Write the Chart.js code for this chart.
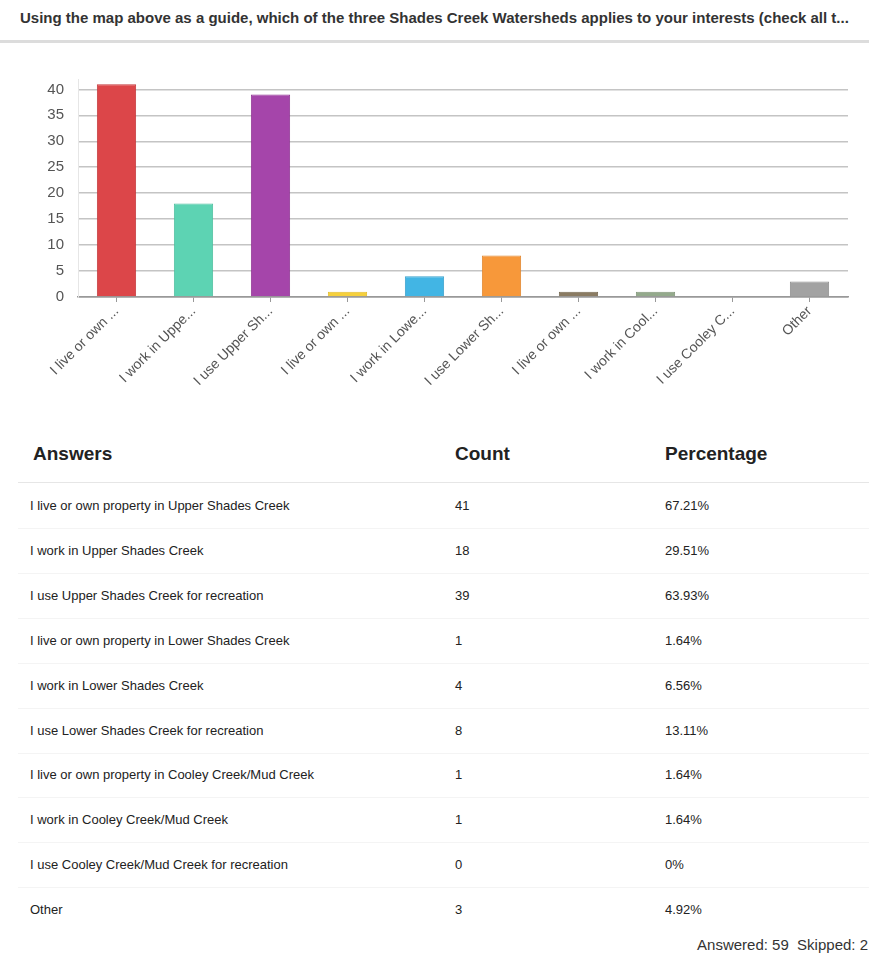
<!DOCTYPE html>
<html>
<head>
<meta charset="utf-8">
<script src="https://cdn.jsdelivr.net/npm/chart.js@4/dist/chart.umd.min.js"></script>
<style>
  body { margin: 0; background: #fff; width: 869px; height: 960px; overflow: hidden; position: relative; font-family: "Liberation Sans", Arial, sans-serif; color: #333; }
  .title { position: absolute; left: 20px; top: 9px; font-size: 15px; font-weight: bold; white-space: nowrap; color: #333; }
  .rule { position: absolute; left: 0; top: 40px; width: 869px; height: 3px; background: #dcdcdc; }
  #chartBox { position: absolute; left: 0; top: 56px; width: 869px; height: 354px; }
  .cell { position: absolute; white-space: nowrap; font-size: 13px; color: #222; }
  .head { font-size: 19px; font-weight: bold; color: #222; }
  .sep { position: absolute; left: 18px; width: 851px; height: 1px; background: #f4f4f4; }
  .footer { position: absolute; right: 1px; top: 936px; font-size: 15px; color: #333; white-space: nowrap; }
</style>
</head>
<body>
<div class="title">Using the map above as a guide, which of the three Shades Creek Watersheds applies to your interests (check all t...</div>
<div class="rule"></div>
<div id="chartBox"><canvas id="barGraph"></canvas></div>
<div id="table"></div>
<div class="footer">Answered: 59&nbsp;&nbsp;Skipped: 2</div>
<script>
// Answer choices, their short axis labels and response counts
var answers = [
    'I live or own property in Upper Shades Creek',
    'I work in Upper Shades Creek',
    'I use Upper Shades Creek for recreation',
    'I live or own property in Lower Shades Creek',
    'I work in Lower Shades Creek',
    'I use Lower Shades Creek for recreation',
    'I live or own property in Cooley Creek/Mud Creek',
    'I work in Cooley Creek/Mud Creek',
    'I use Cooley Creek/Mud Creek for recreation',
    'Other'
];
var axisLabels = [
    'I live or own ...', 'I work in Uppe...', 'I use Upper Sh...',
    'I live or own ...', 'I work in Lowe...', 'I use Lower Sh...',
    'I live or own ...', 'I work in Cool...', 'I use Cooley C...', 'Other'
];
var counts = [41, 18, 39, 1, 4, 8, 1, 1, 0, 3];
var percentages = ['67.21%', '29.51%', '63.93%', '1.64%', '6.56%', '13.11%', '1.64%', '1.64%', '0%', '4.92%'];
var yTicks = [0, 5, 10, 15, 20, 25, 30, 35, 40];

var barColors = ['#dc4649', '#5dd3b3', '#a545aa', '#f6d03c', '#42b5e4', '#f7983a', '#8a7b62', '#94aa8c', '#5a7fa0', '#a2a2a2'];
var borderColors = ['#c43a3d', '#4fbf9f', '#8f3794', '#e3bd2e', '#3aa1cc', '#e0862f', '#776a53', '#82977a', '#4d6e8c', '#8f8f8f'];

var canvas = document.getElementById('barGraph');

var barGraph = new Chart(canvas, {
    type: 'bar',
    data: {
        labels: axisLabels,
        datasets: [{
            data: counts,
            backgroundColor: barColors,
            borderColor: borderColors,
            borderWidth: 1,
            categoryPercentage: 1,
            barPercentage: 0.51
        }]
    },
    options: {
        maintainAspectRatio: false,
        responsive: true,
        animation: false,
        layout: { padding: { top: 4, right: 21, left: 0, bottom: 0 } },
        scales: {
            x: {
                grid: { offset: false, drawOnChartArea: false, drawTicks: true, tickLength: 5, color: '#999' },
                border: { color: '#999', width: 1.5 },
                ticks: {
                    minRotation: 45, maxRotation: 45, autoSkip: false,
                    padding: 1,
                    color: '#555',
                    font: { family: '"Liberation Sans", Arial', size: 14 }
                },
                afterFit: function (scale) { scale.height = 113; }
            },
            y: {
                min: 0,
                max: 42,
                grid: {
                    drawTicks: false,
                    color: function (ctx) { return ctx.tick && ctx.tick.value === 0 ? '#999' : '#c4c4c4'; },
                    lineWidth: 1.5
                },
                border: { color: '#e6e6e6', width: 1 },
                ticks: {
                    stepSize: 5,
                    padding: 14,
                    color: '#555',
                    font: { family: '"Liberation Sans", Arial', size: 15 }
                },
                afterBuildTicks: function (scale) {
                    scale.ticks = yTicks.map(function (v) { return { value: v }; });
                },
                afterFit: function (scale) { scale.width = 78; }
            }
        },
        plugins: {
            legend: { display: false },
            tooltip: { enabled: false }
        }
    }
});

// Answers table below the chart
var table = document.getElementById('table');
function addCell(text, x, y, cls) {
    var el = document.createElement('div');
    el.className = cls;
    el.textContent = text;
    el.style.left = x + 'px';
    el.style.top = y + 'px';
    table.appendChild(el);
}
addCell('Answers', 33, 443, 'cell head');
addCell('Count', 455, 443, 'cell head');
addCell('Percentage', 665, 443, 'cell head');
var sep = document.createElement('div');
sep.className = 'sep';
sep.style.top = '482px';
sep.style.background = '#e6e6e6';
table.appendChild(sep);
for (var i = 0; i < answers.length; i++) {
    var y = 498 + i * 44.9;
    addCell(answers[i], 30, y, 'cell');
    addCell(String(counts[i]), 455, y, 'cell');
    addCell(percentages[i], 665, y, 'cell');
    if (i < answers.length - 1) {
        var line = document.createElement('div');
        line.className = 'sep';
        line.style.top = Math.round(y + 30) + 'px';
        table.appendChild(line);
    }
}
</script>
</body>
</html>
